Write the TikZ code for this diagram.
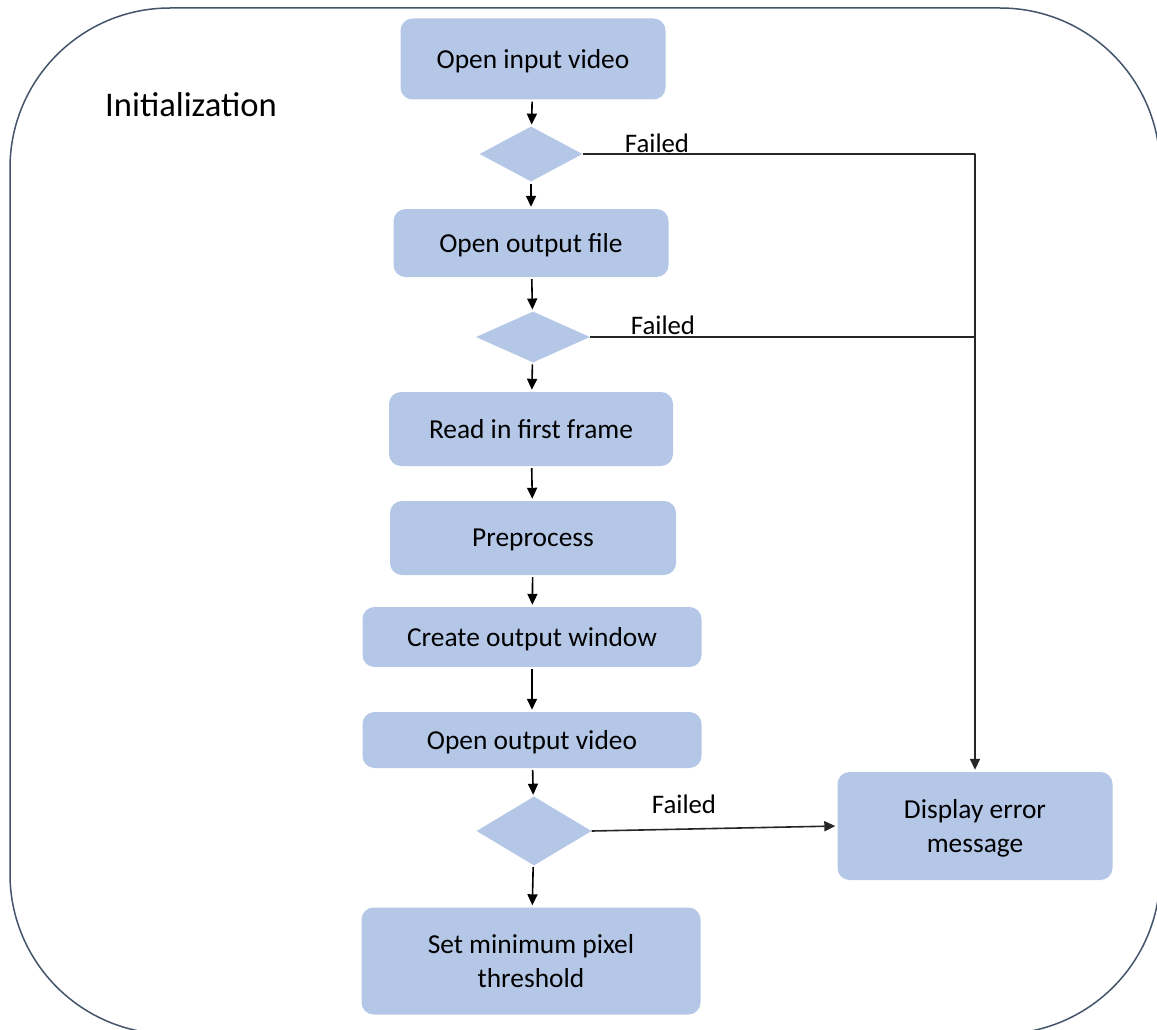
\documentclass[tikz,border=0pt]{standalone}
\usepackage{fontspec}
\setmainfont{Carlito}
\usetikzlibrary{arrows.meta, shapes, positioning}
\usepackage{xcolor}
\definecolor{boxblue}{RGB}{180,199,231}
\definecolor{frameslate}{RGB}{68,84,106}

\begin{document}
\begin{tikzpicture}[
        x=1pt, y=-1pt,
        line join=bevel,
        stepbox/.style={shape=rectangle, rounded corners=12pt, fill=boxblue, inner sep=0pt, align=center, text depth=0pt, font=\fontsize{27.4}{33.5}\selectfont},
        checknode/.style={shape=diamond, fill=boxblue, inner sep=0pt},
        flow/.style={-{Triangle[length=11pt, width=10pt]}, line width=1.6pt, shorten <=2pt, shorten >=2pt},
        failline/.style={line width=1.6pt, draw=black!85},
        faillabel/.style={font=\fontsize{26.8}{32}\selectfont}
        ]

        %% Page and frame
        \useasboundingbox (0,0) rectangle (1157,1030);
        \clip (0,0) rectangle (1157,1030);
        \draw[frameslate, line width=1.5pt, rounded corners=160pt] (10,8) rectangle (1160,1034);
        \node[font=\fontsize{34.6}{40}\selectfont] (title) at (191,105) {Initialization};

        %% Steps
        \node[stepbox, minimum width=265pt, minimum height=81pt] (openin) at (533,59) {Open input video};
        \node[checknode, minimum width=103pt, minimum height=55pt] (checkin) at (531,154) {};
        \node[stepbox, minimum width=275pt, minimum height=68pt] (openout) at (531,243) {Open output file};
        \node[checknode, minimum width=114pt, minimum height=51pt] (checkout) at (533,337) {};
        \node[stepbox, minimum width=284pt, minimum height=74pt] (readfirst) at (531,429) {Read in first frame};
        \node[stepbox, minimum width=286pt, minimum height=74pt] (preproc) at (533,538) {Preprocess};
        \node[stepbox, minimum width=339pt, minimum height=60pt] (mkwindow) at (532,637) {Create output window};
        \node[stepbox, minimum width=339pt, minimum height=56pt] (openvid) at (532,740) {Open output video};
        \node[checknode, minimum width=115pt, minimum height=69pt] (checkvid) at (534,831) {};
        \node[stepbox, minimum width=339pt, minimum height=107pt] (setthresh) at (531,961) {Set minimum pixel\\threshold};
        \node[stepbox, minimum width=275pt, minimum height=108pt] (errmsg) at (975,826) {Display error\\message};

        %% Main flow
        \draw[flow] (openin) -- (checkin);
        \draw[flow] (checkin) -- (openout);
        \draw[flow] (openout) -- (checkout);
        \draw[flow] (checkout) -- (readfirst);
        \draw[flow] (readfirst) -- (preproc);
        \draw[flow] (preproc) -- (mkwindow);
        \draw[flow] (mkwindow) -- (openvid);
        \draw[flow] (openvid) -- (checkvid);
        \draw[flow] (checkvid) -- (setthresh);

        %% Failure branches
        \draw[failline, flow, shorten <=0pt] (checkin.east) -| (errmsg.north);
        \draw[failline] (checkout.east) -- (checkout.east -| errmsg.north);
        \draw[failline, flow, shorten <=0pt] (checkvid.east) -- (errmsg.west);
        \node[faillabel] (fail1) at (657,143) {Failed};
        \node[faillabel] (fail2) at (663,325) {Failed};
        \node[faillabel] (fail3) at (684,804) {Failed};
\end{tikzpicture}
\end{document}
